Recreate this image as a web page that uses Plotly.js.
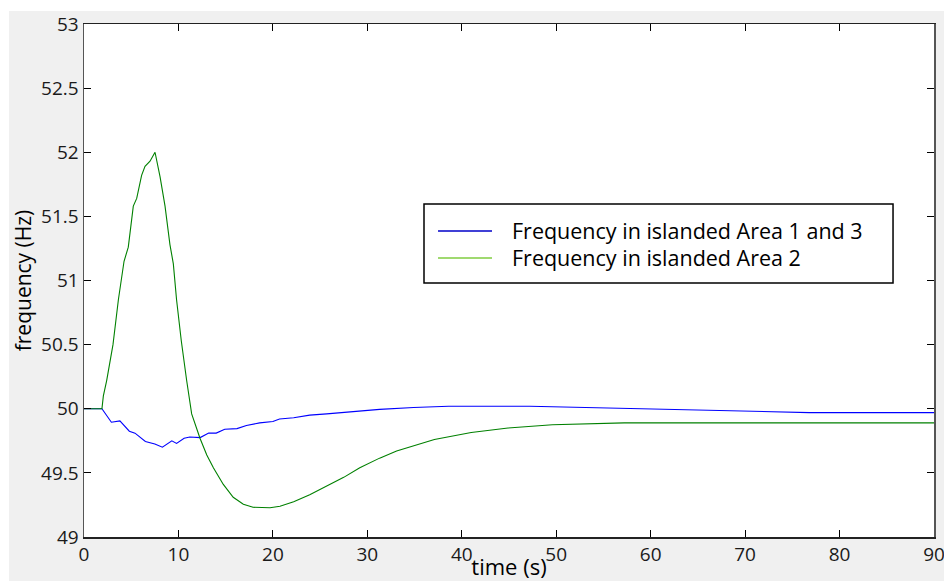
<!DOCTYPE html>
<html>
<head>
<meta charset="utf-8">
<script src="https://cdn.plot.ly/plotly-3.0.1.min.js"></script>
<style>
  html, body { margin: 0; padding: 0; background: #ffffff; width: 944px; height: 581px; overflow: hidden; }
  #chart { position: absolute; left: 9px; top: 11px; width: 935px; height: 570px; }
</style>
</head>
<body>
<div id="chart"></div>
<script>
// Series 1: Frequency in islanded Area 1 and 3
const timeBlue = [0, 1.9, 2.9, 3.8, 4.8, 5.4, 6.5, 7.5, 8.3, 9.3, 9.8, 10.6, 11.2, 12.3, 13.2, 14.0, 14.9, 16.2, 17.2, 18.6, 20.0, 20.7, 22.2, 23.9, 25.7, 27.5, 29.2, 31.3, 34.9, 38.6, 47.2, 53.5, 58.2, 63.3, 68.8, 76.8, 90];
const freqBlue = [50.0, 50.0, 49.895, 49.905, 49.825, 49.81, 49.745, 49.725, 49.70, 49.75, 49.73, 49.77, 49.78, 49.775, 49.81, 49.81, 49.84, 49.845, 49.87, 49.89, 49.90, 49.92, 49.93, 49.95, 49.96, 49.97, 49.985, 49.995, 50.01, 50.02, 50.02, 50.01, 50.0, 49.99, 49.98, 49.97, 49.97];

// Series 2: Frequency in islanded Area 2
const timeGreen = [0, 1.9, 2.05, 2.4, 3.07, 3.64, 4.24, 4.69, 5.22, 5.58, 6.1, 6.46, 6.99, 7.52, 8.05, 8.58, 9.1, 9.46, 9.8, 10.3, 10.87, 11.4, 12.28, 13.0, 13.7, 14.75, 15.8, 16.87, 17.9, 19.7, 20.75, 22.2, 23.9, 25.7, 27.5, 29.2, 31.3, 33.1, 37.1, 41.0, 44.9, 49.6, 57.2, 90];
const freqGreen = [50.0, 50.0, 50.1, 50.22, 50.5, 50.85, 51.15, 51.26, 51.58, 51.64, 51.82, 51.89, 51.93, 52.0, 51.81, 51.58, 51.28, 51.13, 50.85, 50.53, 50.22, 49.96, 49.77, 49.64, 49.54, 49.41, 49.31, 49.255, 49.232, 49.228, 49.24, 49.275, 49.33, 49.395, 49.465, 49.54, 49.615, 49.67, 49.76, 49.815, 49.85, 49.875, 49.89, 49.89];

const seriesNames = ["Frequency in islanded Area 1 and 3", "Frequency in islanded Area 2"];
const legendColors = ["#0000c8", "#80cc40"];
const xTicks = [0, 10, 20, 30, 40, 50, 60, 70, 80, 90];
const yTicks = [49, 49.5, 50, 50.5, 51, 51.5, 52, 52.5, 53];
const yTickText = ["49", "49.5", "50", "50.5", "51", "51.5", "52", "52.5", "53"];

const traces = [
  { x: timeBlue, y: freqBlue, type: "scatter", mode: "lines", name: seriesNames[0],
    line: { color: "#0000ff", width: 1.1 }, showlegend: false, hoverinfo: "none" },
  { x: timeGreen, y: freqGreen, type: "scatter", mode: "lines", name: seriesNames[1],
    line: { color: "#008000", width: 1.1 }, showlegend: false, hoverinfo: "none" }
];

const font = "Open Sans, Liberation Sans, sans-serif";

// legend drawn manually, paper coordinates
const lx0 = 0.4, lx1 = 0.9518, ly0 = 0.495, ly1 = 0.649;
const rowY = [0.5965, 0.5439];
const shapes = [
  { type: "rect", xref: "paper", yref: "paper", x0: lx0, x1: lx1, y0: ly0, y1: ly1,
    line: { color: "#000000", width: 1.5 }, fillcolor: "#ffffff", layer: "above" }
];
const annotations = [];
for (let i = 0; i < 2; i++) {
  shapes.push({ type: "line", xref: "paper", yref: "paper", x0: 0.4165, x1: 0.48, y0: rowY[i], y1: rowY[i],
    line: { color: legendColors[i], width: 1.5 }, layer: "above" });
  annotations.push({ xref: "paper", yref: "paper", x: 0.5012, y: rowY[i], xanchor: "left", yanchor: "middle",
    text: seriesNames[i], showarrow: false, font: { family: font, size: 21.5, color: "#000000" } });
}

const layout = {
  width: 935, height: 570,
  margin: { l: 75, r: 10, t: 13, b: 44, pad: 0 },
  paper_bgcolor: "#f0f0f0",
  plot_bgcolor: "#ffffff",
  showlegend: false,
  font: { family: font, size: 19, color: "#1a1a1a" },
  xaxis: {
    range: [0, 90], tickvals: xTicks, ticktext: xTicks.map(String),
    ticks: "inside", ticklen: 7, tickcolor: "#000000", tickwidth: 1,
    showline: true, linecolor: "#222222", linewidth: 1.5, mirror: "ticks",
    showgrid: false, zeroline: false, ticklabeloverflow: "allow",
    tickfont: { family: font, size: 19, color: "#1a1a1a" },
    title: { text: "time (s)", font: { family: font, size: 22, color: "#000000" }, standoff: 2 }
  },
  yaxis: {
    range: [49, 53], tickvals: yTicks, ticktext: yTickText,
    ticks: "inside", ticklen: 7, tickcolor: "#000000", tickwidth: 1,
    showline: true, linecolor: "#555555", linewidth: 1.5, mirror: "ticks",
    showgrid: false, zeroline: false, ticklabeloverflow: "allow",
    tickfont: { family: font, size: 19, color: "#1a1a1a" },
    title: { text: "frequency (Hz)", font: { family: font, size: 21, color: "#000000" }, standoff: 6 }
  },
  shapes: shapes,
  annotations: annotations
};

Plotly.newPlot("chart", traces, layout, { displayModeBar: false, staticPlot: true });
</script>
</body>
</html>
